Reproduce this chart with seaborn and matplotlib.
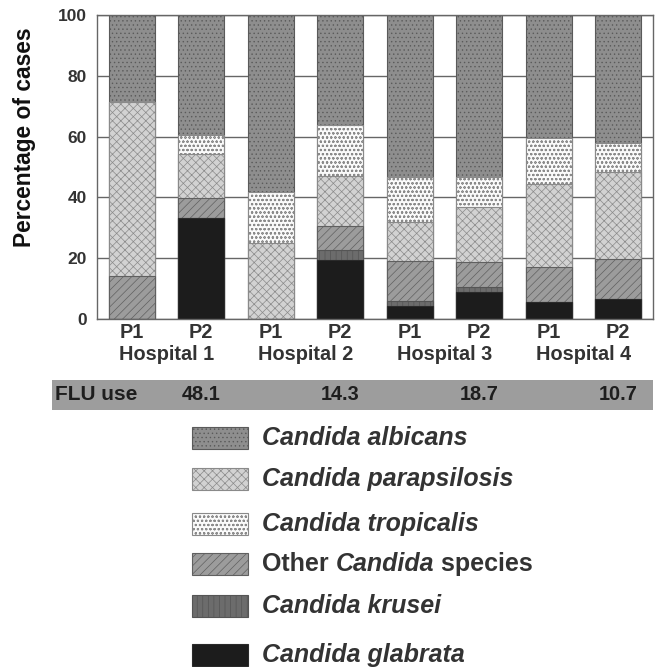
import matplotlib
matplotlib.use("Agg")
import matplotlib.pyplot as plt
import matplotlib.transforms as mtransforms
from matplotlib.patches import Rectangle
import numpy as np
import pandas as pd
import seaborn as sns

# data (percentage of cases)
bars = ["H1 P1", "H1 P2", "H2 P1", "H2 P2", "H3 P1", "H3 P2", "H4 P1", "H4 P2"]
period_labels = ["P1", "P2", "P1", "P2", "P1", "P2", "P1", "P2"]
hospitals = ["Hospital 1", "Hospital 2", "Hospital 3", "Hospital 4"]
flu_use = ["48.1", "14.3", "18.7", "10.7"]

glabrata = [0, 33.2, 0, 19.5, 4.3, 9.0, 5.5, 6.6]
krusei = [0, 0, 0, 3.1, 1.7, 1.4, 0, 0]
other = [14.2, 6.6, 0, 8.1, 13.1, 8.2, 11.5, 13.2]
parapsilosis = [57.2, 14.6, 25.0, 16.5, 12.8, 18.4, 27.4, 28.4]
tropicalis = [0, 6.2, 16.8, 16.7, 14.7, 9.6, 15.1, 9.7]
albicans = [28.6, 39.4, 58.2, 36.1, 53.4, 53.4, 40.5, 42.1]

# bottom to top
series_names = ["glabrata", "krusei", "other", "parapsilosis", "tropicalis", "albicans"]
series_vals = [glabrata, krusei, other, parapsilosis, tropicalis, albicans]
face = {"glabrata": "#1c1c1c", "krusei": "#6c6c6c", "other": "#9c9c9c",
        "parapsilosis": "#d2d2d2", "tropicalis": "#fafafa", "albicans": "#8e8e8e"}
edge = {"glabrata": "#2a2a2a", "krusei": "#555555", "other": "#606060",
        "parapsilosis": "#8a8a8a", "tropicalis": "#8a8a8a", "albicans": "#5a5a5a"}
hatch = {"glabrata": "", "krusei": "|||", "other": "////",
         "parapsilosis": "xxxx", "tropicalis": "oooo", "albicans": "...."}

cum = np.cumsum(np.array(series_vals), axis=0)
df = pd.DataFrame(cum.T, columns=series_names)
df["bar"] = bars

sns.set_style("white")
plt.rcParams["font.family"] = ["Liberation Sans", "DejaVu Sans"]
plt.rcParams["hatch.linewidth"] = 0.5
txt = "#333333"

fig = plt.figure(figsize=(6.6, 6.67), dpi=100)
ax = fig.add_axes([97 / 660, 1 - 319 / 667, 556 / 660, 304 / 667])

# stacked bars: draw cumulative totals from the top layer down
for name in series_names[::-1]:
    sns.barplot(data=df, x="bar", y=name, order=bars, color=face[name],
                saturation=1, errorbar=None, width=0.66, edgecolor=edge[name],
                linewidth=0.8, hatch=hatch[name], ax=ax, zorder=2)

ax.set_xlim(-0.5, 7.5)
ax.set_ylim(0, 100)
ax.set_yticks([0, 20, 40, 60, 80, 100])
ax.yaxis.grid(True, color="#666666", linewidth=1)
ax.set_axisbelow(True)
for sp in ax.spines.values():
    sp.set_visible(True)
    sp.set_color("#666666")
    sp.set_linewidth(1)
ax.set_xlabel("")
ax.set_ylabel("")
ax.set_xticks(range(8))
ax.set_xticklabels(period_labels, fontsize=14.3, fontweight="bold", color=txt)
ax.set_xticks(np.arange(-0.5, 8, 1), minor=True)
ax.tick_params(axis="x", which="major", length=0, pad=3)
ax.tick_params(axis="x", which="minor", length=4, direction="out", color="#666666")
ax.tick_params(axis="y", length=6.5, direction="out", color="#666666", pad=1,
               labelsize=12.5, labelcolor=txt)
for lab in ax.get_yticklabels():
    lab.set_fontweight("bold")

fig.text(25 / 660, 1 - 137 / 667, "Percentage of cases", rotation=90, fontsize=16.4,
         fontweight="bold", color="#111111", ha="center", va="center")

trans = mtransforms.blended_transform_factory(ax.transData, fig.transFigure)
for i, h in enumerate(hospitals):
    ax.text(2 * i + 0.5, 1 - 354 / 667, h, transform=trans, ha="center", va="center",
            fontsize=14.3, fontweight="bold", color=txt)

# FLU use band
fig.patches.append(Rectangle((52 / 660, 1 - 410 / 667), 601 / 660, 30 / 667,
                             transform=fig.transFigure, facecolor="#9d9d9d",
                             edgecolor="none", zorder=-1))
fig.text(55 / 660, 1 - 395 / 667, "FLU use", fontsize=15, fontweight="bold",
         color="#1e1e1e", ha="left", va="center")
for i, v in enumerate(flu_use):
    ax.text(2 * i + 1, 1 - 395 / 667, v, transform=trans, ha="center", va="center",
            fontsize=14.3, fontweight="bold", color="#1e1e1e")

# legend
legend_rows = [
    ("albicans", [("Candida albicans", "italic")]),
    ("parapsilosis", [("Candida parapsilosis", "italic")]),
    ("tropicalis", [("Candida tropicalis", "italic")]),
    ("other", [("Other ", "normal"), ("Candida", "italic"), (" species", "normal")]),
    ("krusei", [("Candida krusei", "italic")]),
    ("glabrata", [("Candida glabrata", "italic")]),
]
row_tops = [427, 468, 513, 553, 595, 644]
fig.canvas.draw()
renderer = fig.canvas.get_renderer()
for (name, parts), top in zip(legend_rows, row_tops):
    fig.patches.append(Rectangle((192 / 660, 1 - (top + 22) / 667), 56 / 660, 22 / 667,
                                 transform=fig.transFigure, facecolor=face[name],
                                 edgecolor=edge[name], linewidth=0.8, hatch=hatch[name]))
    x = 262
    for s, style in parts:
        t = fig.text(x / 660, 1 - (top + 11) / 667, s, fontsize=18, fontweight="bold",
                     style=style, color=txt, ha="left", va="center")
        x += t.get_window_extent(renderer).width

fig.savefig("out.png", dpi=100)
